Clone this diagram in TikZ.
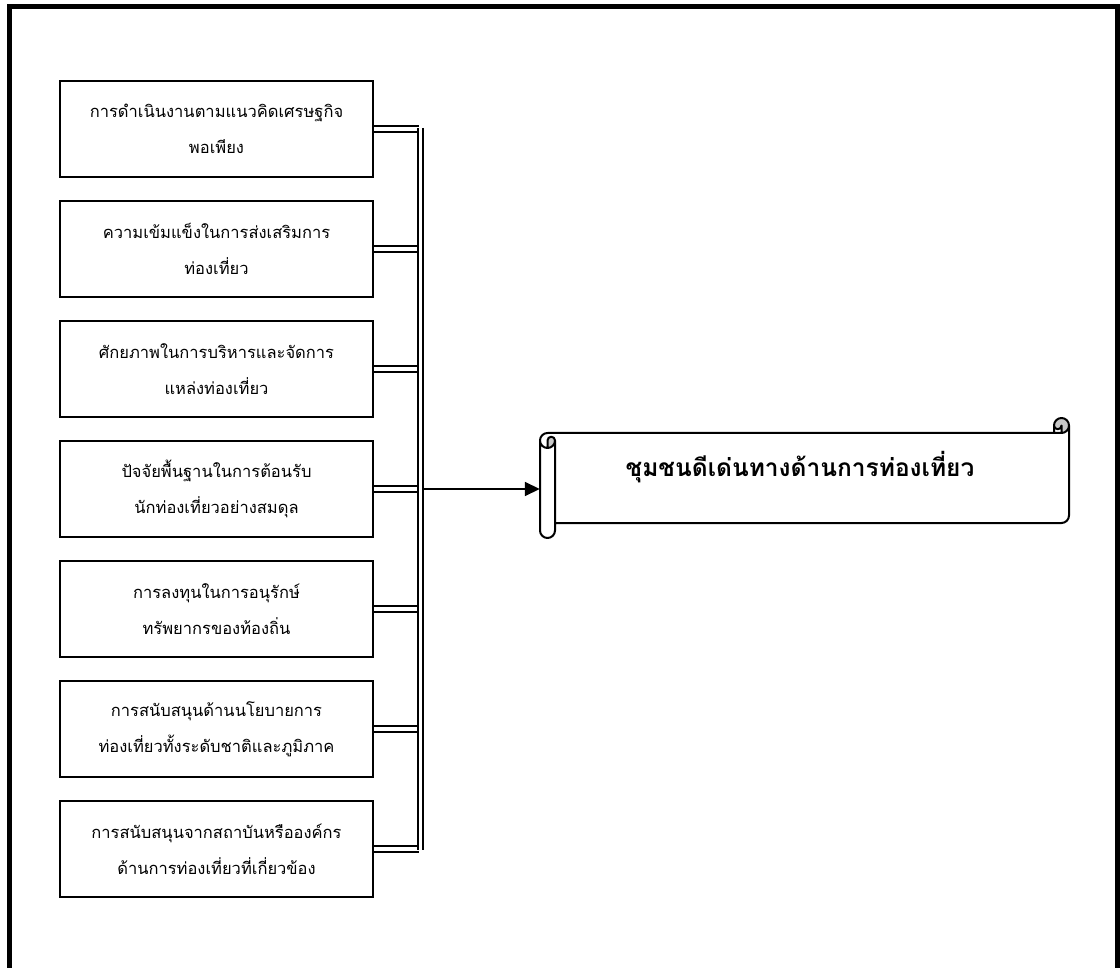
\documentclass[tikz,border=0pt]{standalone}
\usepackage{fontspec}
\newfontfamily\thaifont[Script=Thai]{Loma}
\usetikzlibrary{arrows.meta}
\definecolor{curlgray}{RGB}{200,200,200}
\tikzset{
  factor/.style={draw, line width=2pt, minimum width=313pt, minimum height=96pt,
    align=center, font=\thaifont\fontsize{16.5}{36}\selectfont, inner sep=0pt},
  dbl/.style={draw, line width=2pt, double=white, double distance=3.6pt},
  arrowline/.style={draw, line width=1.7pt, -{Triangle[length=15pt,width=14pt]}},
  scrollline/.style={draw, line width=2pt, line join=round},
  frameline/.style={draw, line width=5pt},
  titletext/.style={font=\thaifont\bfseries\fontsize{24.5}{28}\selectfont, inner sep=0pt}
}
\begin{document}
\begin{tikzpicture}[x=1pt, y=-1pt]
\useasboundingbox (0,0) rectangle (1120,968);
\clip (0,0) rectangle (1120,968);
% outer frame
\draw[frameline] (9.5,990) -- (9.5,6.5) -- (1117.5,6.5) -- (1117.5,990);

% factor boxes
\node[factor] (b1) at (216.5,129) {การดำเนินงานตามแนวคิดเศรษฐกิจ\\พอเพียง};
\node[factor] (b2) at (216.5,249) {ความเข้มแข็งในการส่งเสริมการ\\ท่องเที่ยว};
\node[factor] (b3) at (216.5,369) {ศักยภาพในการบริหารและจัดการ\\แหล่งท่องเที่ยว};
\node[factor] (b4) at (216.5,489) {ปัจจัยพื้นฐานในการต้อนรับ\\นักท่องเที่ยวอย่างสมดุล};
\node[factor] (b5) at (216.5,609) {การลงทุนในการอนุรักษ์\\ทรัพยากรของท้องถิ่น};
\node[factor] (b6) at (216.5,729) {การสนับสนุนด้านนโยบายการ\\ท่องเที่ยวทั้งระดับชาติและภูมิภาค};
\node[factor] (b7) at (216.5,849) {การสนับสนุนจากสถาบันหรือองค์กร\\ด้านการท่องเที่ยวที่เกี่ยวข้อง};

% bus coordinates
\coordinate (busx) at (418.5,0);
\coordinate (busc) at (420.5,0);
\coordinate (bustop) at (420.5,128);
\coordinate (busbot) at (420.5,850);

% horizontal double connectors
\foreach \b in {b1,b2,b3,b4,b5,b6,b7}{
  \path[dbl] (\b.east) -- (busx |- \b.east);
}
% vertical double bus
\path[dbl] (bustop) -- (busbot);

% scroll shape (node placeholder for connector)
\node[minimum width=529pt, minimum height=120pt, inner sep=0pt] (scroll) at (804.5,478) {};
% fill
\fill[white] (1069,425.5) arc[start angle=0, delta angle=90, radius=7.5]
  -- (1061.5,425.5) arc[start angle=0, delta angle=180, radius=3.75]
  -- (1054,433) -- (547.5,433) arc[start angle=270, delta angle=-90, radius=7.5]
  -- (540,530.5) arc[start angle=180, delta angle=-180, radius=7.5]
  -- (555,523) -- (1061.5,523) arc[start angle=90, delta angle=-90, radius=7.5]
  -- cycle;
\fill[curlgray] (547.5,448) arc[start angle=90, delta angle=-90, radius=7.5]
  arc[start angle=0, delta angle=-180, radius=3.75] -- cycle;
\fill[curlgray] (1061.5,433) arc[start angle=90, delta angle=-270, radius=7.5]
  arc[start angle=180, delta angle=-180, radius=3.75] -- cycle;
% strokes
\path[scrollline] (540,440.5) arc[start angle=180, delta angle=90, radius=7.5]
  -- (1054,433) -- (1054,425.5) arc[start angle=180, delta angle=180, radius=7.5]
  -- (1069,515.5) arc[start angle=0, delta angle=90, radius=7.5]
  -- (555,523) -- (555,530.5) arc[start angle=0, delta angle=180, radius=7.5]
  -- cycle
  (1054,433) -- (1061.5,433) arc[start angle=90, delta angle=-90, radius=7.5]
  (1061.5,433) -- (1061.5,425.5) arc[start angle=0, delta angle=180, radius=3.75]
  (547.5,448) -- (547.5,440.5) arc[start angle=180, delta angle=180, radius=3.75]
  arc[start angle=0, delta angle=180, radius=7.5]
  (555,440.5) -- (555,523);
\node[titletext] (title) at (800,467) {ชุมชนดีเด่นทางด้านการท่องเที่ยว};

% arrow from bus to scroll
\path[arrowline] (busc |- b4.east) ++(3,0) -- (scroll.west |- b4.east);
\end{tikzpicture}
\end{document}
